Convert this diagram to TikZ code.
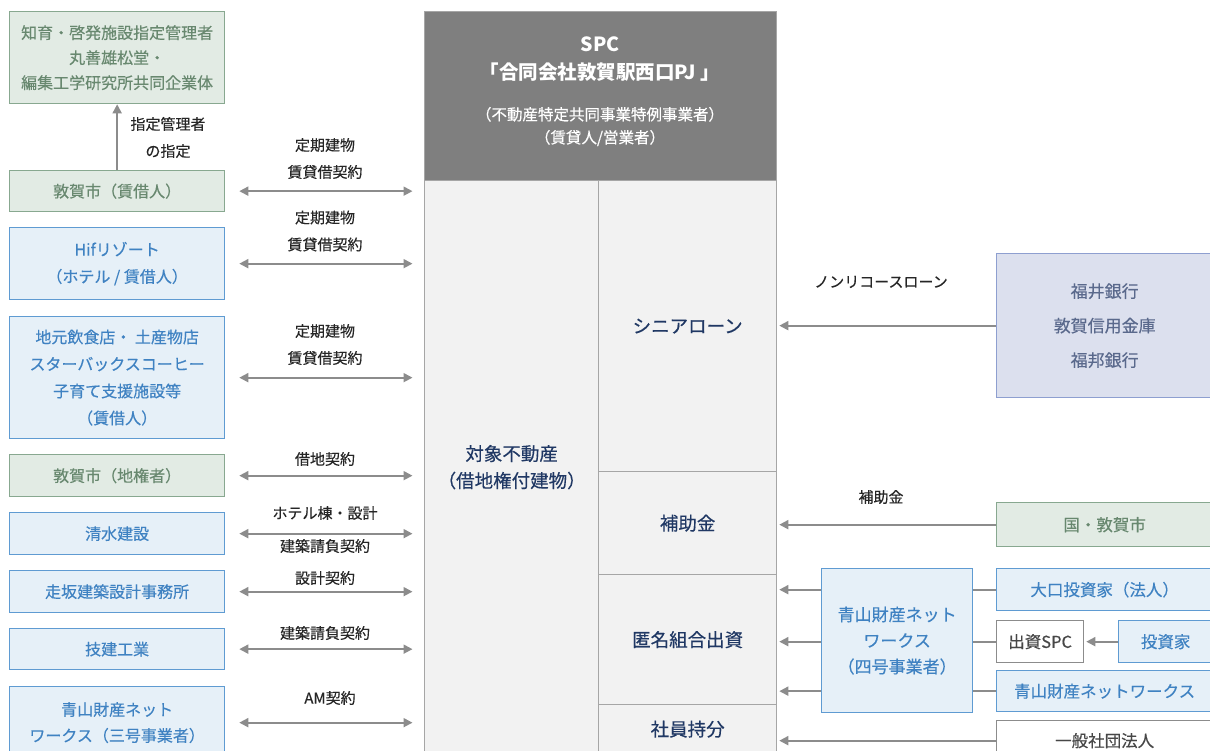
\documentclass[tikz,border=0pt]{standalone}
\usepackage{fontspec}
\setmainfont{Noto Sans CJK JP}[UprightFeatures={FakeBold=0.35}]
\usetikzlibrary{arrows.meta}
\definecolor{gfill}{HTML}{E2EBE4}
\definecolor{gline}{HTML}{88A890}
\definecolor{gtext}{HTML}{68886F}
\definecolor{bfill}{HTML}{E6F0F8}
\definecolor{bline}{HTML}{5F9BD2}
\definecolor{btext}{HTML}{3F82C2}
\definecolor{kfill}{HTML}{DCE0EE}
\definecolor{kline}{HTML}{8E9FD0}
\definecolor{ktext}{HTML}{5A698C}
\definecolor{spcfill}{HTML}{7F7F7F}
\definecolor{cfill}{HTML}{F2F2F2}
\definecolor{cline}{HTML}{A6A6A6}
\definecolor{ctext}{HTML}{203864}
\definecolor{arrc}{HTML}{8C8C8C}
\definecolor{lblc}{HTML}{262626}
\definecolor{wline}{HTML}{8C8C8C}
\newcommand\myfs[2]{\fontsize{#1}{#2}\selectfont}
\begin{document}
\begin{tikzpicture}[x=1pt,y=-1pt,
  every node/.style={inner sep=0pt, align=center},
  base/.style={anchor=north west, line width=1.3pt},
  gbox/.style={base, draw=gline, fill=gfill, text=gtext, font=\myfs{16}{25}},
  bbox/.style={base, draw=bline, fill=bfill, text=btext, font=\myfs{16}{27}},
  kbox/.style={base, draw=kline, fill=kfill, text=ktext, font=\myfs{17}{34.5}},
  wbox/.style={base, draw=wline, fill=white, text=lblc!85, font=\myfs{16.5}{26}},
  cbox/.style={base, draw=cline, fill=cfill, text=ctext, font=\myfs{18.5}{27}},
  lbl/.style={text=lblc, font=\myfs{15}{27}},
  arr/.style={draw=arrc, line width=1.8pt, -{Triangle[length=9pt,width=9pt]}},
  darr/.style={draw=arrc, line width=1.8pt, {Triangle[length=9pt,width=9pt]}-{Triangle[length=9pt,width=9pt]}},
  seg/.style={draw=arrc, line width=1.8pt}
]
\useasboundingbox (0,0) rectangle (1210,751);
\fill[white] (0,0) rectangle (1210,751);

% left column
\node[gbox, minimum width=215pt, minimum height=92pt] (chiiku) at (9,11) {知育・啓発施設指定管理者\\丸善雄松堂・\\編集工学研究所共同企業体};
\node[gbox, minimum width=215pt, minimum height=41pt] (kashaku) at (9,170) {敦賀市（賃借人）};
\node[bbox, minimum width=215pt, minimum height=72pt] (hif) at (9,227) {Hifリゾート\\（ホテル / 賃借人）};
\node[bbox, minimum width=215pt, minimum height=122pt] (jimoto) at (9,316) {地元飲食店・ 土産物店\\スターバックスコーヒー\\子育て支援施設等\\（賃借人）};
\node[gbox, minimum width=215pt, minimum height=42pt] (chiken) at (9,454) {敦賀市（地権者）};
\node[bbox, minimum width=215pt, minimum height=42pt] (shimizu) at (9,512) {清水建設};
\node[bbox, minimum width=215pt, minimum height=42pt] (hashiri) at (9,570) {走坂建築設計事務所};
\node[bbox, minimum width=215pt, minimum height=41pt] (giken) at (9,628) {技建工業};
\node[bbox, minimum width=215pt, minimum height=72pt, font=\myfs{16}{26}] (aoyama3) at (9,686) {青山財産ネット\\ワークス（三号事業者）};

% center
\node[base, draw=cline, fill=spcfill, minimum width=352pt, minimum height=169pt] (spc) at (424,11) {};
\node[text=white, font=\bfseries\myfs{19.5}{28}] (spctitle) at (600,59) {SPC\\「合同会社敦賀駅西口PJ 」};
\node[text=white, font=\myfs{15.5}{23}] (spcsub) at (600,126.5) {（不動産特定共同事業特例事業者）\\（賃貸人/営業者）};
\node[cbox, minimum width=174pt, minimum height=573pt] (prop) at (424,180) {対象不動産\\（借地権付建物）};
\node[cbox, minimum width=178pt, minimum height=291pt] (senior) at (598,180) {シニアローン};
\node[cbox, minimum width=178pt, minimum height=103pt] (hojo) at (598,471) {補助金};
\node[cbox, minimum width=178pt, minimum height=130pt] (tokumei) at (598,574) {匿名組合出資};
\node[cbox, minimum width=178pt, minimum height=49pt] (shain) at (598,704) {社員持分};

% right
\node[kbox, minimum width=216pt, minimum height=144pt] (bank) at (996,253) {福井銀行\\敦賀信用金庫\\福邦銀行};
\node[gbox, minimum width=216pt, minimum height=44pt, font=\myfs{16.5}{25}] (kuni) at (996,502) {国・敦賀市};
\node[bbox, minimum width=151pt, minimum height=144pt, font=\myfs{17}{26}] (a4) at (821,568) {青山財産ネット\\ワークス\\（四号事業者）};
\node[bbox, minimum width=216pt, minimum height=42pt, font=\myfs{16.5}{26}] (oguchi) at (996,568) {大口投資家（法人）};
\node[wbox, minimum width=87pt, minimum height=42pt] (shusspc) at (996,620) {出資SPC};
\node[bbox, minimum width=94pt, minimum height=42pt, font=\myfs{16.5}{26}] (toushika) at (1118,620) {投資家};
\node[bbox, minimum width=216pt, minimum height=41pt, font=\myfs{16.5}{26}] (aoyamanw) at (996,670) {青山財産ネットワークス};
\node[wbox, minimum width=216pt, minimum height=40pt] (ippan) at (996,720) {一般社団法人};

% left connectors
\draw[arr] (kashaku.north) -- (chiiku.south);
\node[lbl] (shitei) at (168,137.5) {指定管理者\\の指定};

\draw[darr, shorten <=14pt, shorten >=11.5pt] (kashaku.east) -- (kashaku.east -| prop.west);
\node[lbl] (l1) at (325,158.5) {定期建物\\賃貸借契約};
\draw[darr, shorten <=14pt, shorten >=11.5pt] (hif.east) -- (hif.east -| prop.west);
\node[lbl] (l2) at (325,231) {定期建物\\賃貸借契約};
\draw[darr, shorten <=14pt, shorten >=11.5pt] (jimoto.east) -- (jimoto.east -| prop.west);
\node[lbl] (l3) at (325,344.5) {定期建物\\賃貸借契約};
\draw[darr, shorten <=14pt, shorten >=11.5pt] (chiken.east) -- (chiken.east -| prop.west);
\node[lbl] (l4) at (325,459) {借地契約};
\draw[darr, shorten <=14pt, shorten >=11.5pt] (shimizu.east) -- (shimizu.east -| prop.west);
\node[lbl] (l5a) at (325,513) {ホテル棟・設計};
\node[lbl] (l5b) at (325,546) {建築請負契約};
\draw[darr, shorten <=14pt, shorten >=11.5pt] (hashiri.east) -- (hashiri.east -| prop.west);
\node[lbl] (l6) at (325,578) {設計契約};
\draw[darr, shorten <=14pt, shorten >=11.5pt] (giken.east) -- (giken.east -| prop.west);
\node[lbl] (l7) at (325,633) {建築請負契約};
\draw[darr, shorten <=14pt, shorten >=11.5pt] (aoyama3.east) -- (aoyama3.east -| prop.west);
\node[lbl] (l8) at (330,698) {AM契約};

% right connectors
\draw[arr, shorten >=2pt] (bank.west) -- (bank.west -| senior.east);
\node[lbl] (lnr) at (881,282) {ノンリコースローン};
\draw[arr, shorten >=2pt] (kuni.west) -- (kuni.west -| hojo.east);
\node[lbl] (lhj) at (881,497) {補助金};

\draw[arr, shorten >=2pt] (oguchi.west -| a4.west) -- (oguchi.west -| tokumei.east);
\draw[arr, shorten >=2pt] (shusspc.west -| a4.west) -- (shusspc.west -| tokumei.east);
\draw[arr, shorten >=2pt] (aoyamanw.west -| a4.west) -- (aoyamanw.west -| tokumei.east);
\draw[seg] (oguchi.west -| a4.east) -- (oguchi.west);
\draw[seg] (shusspc.west -| a4.east) -- (shusspc.west);
\draw[seg] (aoyamanw.west -| a4.east) -- (aoyamanw.west);
\draw[arr, shorten >=2pt] (toushika.west) -- (shusspc.east);
\draw[arr, shorten >=2pt] (ippan.west) -- (ippan.west -| shain.east);
\end{tikzpicture}
\end{document}
